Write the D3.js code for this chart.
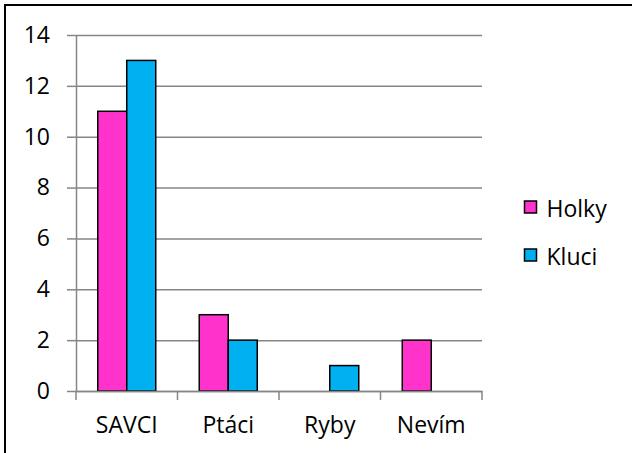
<!DOCTYPE html>
<html>
<head>
<meta charset="utf-8">
<script src="https://cdn.jsdelivr.net/npm/d3@7"></script>
<style>
  body { margin: 0; background: #fff; }
  text { font-family: "Open Sans", sans-serif; }
</style>
</head>
<body>
<script>
// Datos del gráfico
const kategorie = ["SAVCI", "Ptáci", "Ryby", "Nevím"];
const serie = ["Holky", "Kluci"];
const holky = [11, 3, 0, 2];
const kluci = [13, 2, 1, 0];
const yTicks = [0, 2, 4, 6, 8, 10, 12, 14];
const barvy = ["#FF33CC", "#00B0F0"];

const WIDTH = 632;
const HEIGHT = 453;
const PLOT = { left: 76, right: 482, top: 35, bottom: 391 };
const FONT = 23;

const svg = d3.select("body")
  .append("svg")
  .attr("width", WIDTH)
  .attr("height", HEIGHT);

// Rámeček (jen levá a horní hrana jsou vidět)
svg.append("path")
  .attr("d", `M5,${HEIGHT} L5,5 L${WIDTH},5`)
  .attr("fill", "none")
  .attr("stroke", "#000")
  .attr("stroke-width", 2);

const escalaY = d3.scaleLinear()
  .domain([0, 14])
  .range([PLOT.bottom, PLOT.top]);

const escalaX = d3.scaleBand()
  .domain(kategorie)
  .range([PLOT.left, PLOT.right])
  .padding(0);

const escalaSerie = d3.scaleBand()
  .domain(serie)
  .range([0, escalaX.bandwidth()])
  .paddingInner(0)
  .paddingOuter(0.75);

// Mřížka
svg.append("g")
  .attr("transform", `translate(${PLOT.left},0)`)
  .call(d3.axisLeft(escalaY).tickValues(yTicks).tickSizeInner(-(PLOT.right - PLOT.left)).tickSizeOuter(0).tickFormat(""))
  .call(g => g.select(".domain").remove())
  .selectAll("line")
  .attr("stroke", "#868686")
  .attr("stroke-width", 1.5);

// Osa Y
const ejeY = svg.append("g")
  .attr("transform", `translate(${PLOT.left},0)`)
  .call(d3.axisLeft(escalaY).tickValues(yTicks).tickSizeInner(9).tickSizeOuter(0).tickPadding(17));
ejeY.select(".domain").attr("stroke", "#868686").attr("stroke-width", 1.5);
ejeY.selectAll("line").attr("stroke", "#868686").attr("stroke-width", 1.5);
ejeY.selectAll("text").attr("font-size", FONT).attr("fill", "#000")
  .attr("font-family", "Open Sans, sans-serif");

// Sloupce
const datos = kategorie.map((k, i) => ({ kategorie: k, hodnoty: [holky[i], kluci[i]] }));

svg.append("g")
  .selectAll("g")
  .data(datos)
  .join("g")
  .attr("transform", d => `translate(${escalaX(d.kategorie)},0)`)
  .selectAll("rect")
  .data(d => d.hodnoty.map((v, j) => ({ serie: serie[j], hodnota: v, barva: barvy[j] })))
  .join("rect")
  .filter(d => d.hodnota > 0)
  .attr("x", d => escalaSerie(d.serie))
  .attr("width", escalaSerie.bandwidth())
  .attr("y", d => escalaY(d.hodnota))
  .attr("height", d => escalaY(0) - escalaY(d.hodnota))
  .attr("fill", d => d.barva)
  .attr("stroke", "#000")
  .attr("stroke-width", 1.5);

// Osa X
const ejeX = svg.append("g")
  .attr("transform", `translate(0,${PLOT.bottom})`)
  .call(d3.axisBottom(escalaX).tickSize(0).tickPadding(26));
ejeX.select(".domain").attr("stroke", "#868686").attr("stroke-width", 1.5);
ejeX.selectAll("text").attr("font-size", FONT).attr("fill", "#000")
  .attr("font-family", "Open Sans, sans-serif");

// Dělící značky mezi kategoriemi
const hranice = kategorie.map(k => escalaX(k)).concat([escalaX.range()[1]]);
ejeX.selectAll(".hranice")
  .data(hranice)
  .join("line")
  .attr("class", "hranice")
  .attr("x1", d => d).attr("x2", d => d)
  .attr("y1", 0).attr("y2", 9)
  .attr("stroke", "#868686")
  .attr("stroke-width", 1.5);

// Legenda
const legenda = svg.append("g")
  .selectAll("g")
  .data(serie)
  .join("g")
  .attr("transform", (d, i) => `translate(524.5,${201 + i * 48})`);

legenda.append("rect")
  .attr("width", 12)
  .attr("height", 12)
  .attr("fill", (d, i) => barvy[i])
  .attr("stroke", "#000")
  .attr("stroke-width", 1.5);

legenda.append("text")
  .attr("x", 22)
  .attr("y", 15.5)
  .attr("font-size", FONT)
  .text(d => d);
</script>
</body>
</html>
